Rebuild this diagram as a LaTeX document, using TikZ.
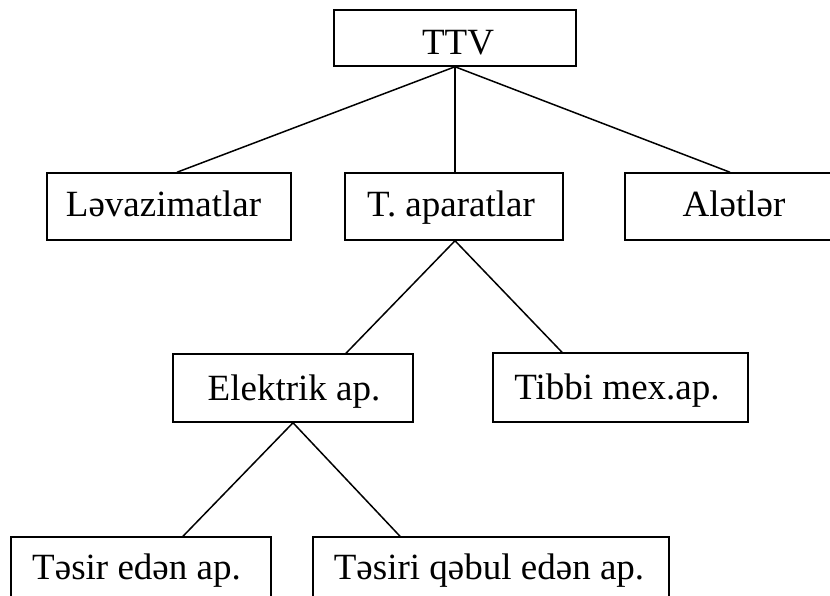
\documentclass[tikz,border=0pt]{standalone}
\usepackage{fontspec}
\setmainfont{Liberation Serif}
\begin{document}
\begin{tikzpicture}[x=1pt,y=1pt,
  box/.style={draw, line width=1.5pt, inner sep=0pt, anchor=center},
  lbl/.style={anchor=base, inner sep=0pt, font=\fontsize{37}{41}\selectfont},
  link/.style={line width=1.5pt}]
  \clip (0,0) rectangle (830,-596);
  \fill[white] (0,0) rectangle (830,-596);

  % boxes
  \node[box, minimum width=242pt, minimum height=56pt] (ttv)   at (455,-38)    {};
  \node[box, minimum width=244pt, minimum height=67pt] (lev)   at (169,-206.5) {};
  \node[box, minimum width=218pt, minimum height=67pt] (tap)   at (454,-206.5) {};
  \node[box, minimum width=218pt, minimum height=67pt] (alet)  at (734,-206.5) {};
  \node[box, minimum width=240pt, minimum height=68pt] (elek)  at (293,-388)   {};
  \node[box, minimum width=255pt, minimum height=69pt] (tibbi) at (620.5,-387.5) {};
  \node[box, minimum width=260pt, minimum height=67pt] (tesir) at (141,-570.5) {};
  \node[box, minimum width=356pt, minimum height=67pt] (qebul) at (491,-570.5) {};

  % labels
  \node[lbl] (ttv-t)   at (458,-55)   {TTV};
  \node[lbl] (lev-t)   at (163.5,-217) {Ləvazimatlar};
  \node[lbl] (tap-t)   at (451,-217)  {T. aparatlar};
  \node[lbl] (alet-t)  at (734,-217)  {Alətlər};
  \node[lbl] (elek-t)  at (294,-400)  {Elektrik ap.};
  \node[lbl] (tibbi-t) at (617,-399)  {Tibbi mex.ap.};
  \node[lbl] (tesir-t) at (136.5,-579) {Təsir edən ap.};
  \node[lbl] (qebul-t) at (489,-579)  {Təsiri qəbul edən ap.};

  % connectors
  \draw[link] (ttv.south) -- ([xshift=8pt]lev.north);
  \draw[link] (ttv.south) -- ([xshift=1pt]tap.north);
  \draw[link] (ttv.south) -- ([xshift=-4pt]alet.north);
  \draw[link] ([xshift=1pt]tap.south) -- ([xshift=53pt]elek.north);
  \draw[link] ([xshift=1pt]tap.south) -- ([xshift=-58.5pt]tibbi.north);
  \draw[link] (elek.south) -- ([xshift=42pt]tesir.north);
  \draw[link] (elek.south) -- ([xshift=-91pt]qebul.north);
\end{tikzpicture}
\end{document}
